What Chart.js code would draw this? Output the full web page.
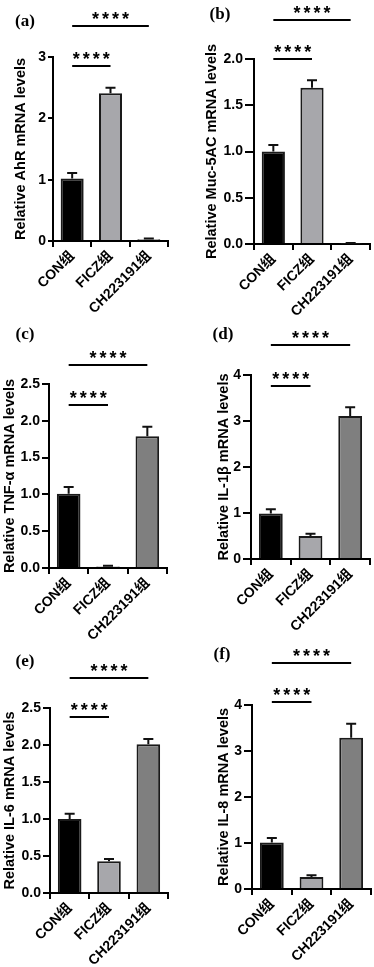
<!DOCTYPE html>
<html>
<head>
<meta charset="utf-8">
<script src="https://cdn.jsdelivr.net/npm/chart.js@4.4.1/dist/chart.umd.min.js"></script>
<style>
  body { margin: 0; background: #fff; width: 374px; height: 967px; position: relative; overflow: hidden; }
  canvas { position: absolute; }
</style>
</head>
<body>
<canvas id="pa" width="187" height="320" style="left:0;top:0"></canvas>
<canvas id="pb" width="187" height="320" style="left:187px;top:0"></canvas>
<canvas id="pc" width="187" height="320" style="left:0;top:320px"></canvas>
<canvas id="pd" width="187" height="320" style="left:187px;top:320px"></canvas>
<canvas id="pe" width="187" height="327" style="left:0;top:640px"></canvas>
<canvas id="pf" width="187" height="327" style="left:187px;top:640px"></canvas>
<script>
// Groupes
const groupes = ["CON组", "FICZ组", "CH223191组"];

// Valeurs moyennes (expression relative) et écarts-types
const ahr = [1.02, 2.41, 0.03];
const ahrSd = [0.09, 0.09, 0.01];
const muc5ac = [1.00, 1.69, 0.005];
const muc5acSd = [0.07, 0.08, 0.005];
const tnfa = [1.01, 0.02, 1.79];
const tnfaSd = [0.09, 0.01, 0.13];
const il1b = [0.99, 0.50, 3.11];
const il1bSd = [0.09, 0.05, 0.19];
const il6 = [1.00, 0.43, 2.01];
const il6Sd = [0.07, 0.03, 0.07];
const il8 = [1.01, 0.26, 3.29];
const il8Sd = [0.10, 0.04, 0.30];

// Axes
const titresY = [
    "Relative AhR mRNA levels",
    "Relative Muc-5AC mRNA levels",
    "Relative TNF-α mRNA levels",
    "Relative IL-1β mRNA levels",
    "Relative IL-6 mRNA levels",
    "Relative IL-8 mRNA levels",
];
const yMax = [3, 2, 2.5, 4, 2.5, 4];
const yPas = [1, 0.5, 0.5, 1, 0.5, 1];
const lettres = ["(a)", "(b)", "(c)", "(d)", "(e)", "(f)"];

// Comparaisons significatives (CON vs FICZ, CON vs CH223191)
const comparaisons = [[0, 1], [0, 2]];
const signif = "****";

const valeurs = [ahr, muc5ac, tnfa, il1b, il6, il8];
const ecarts = [ahrSd, muc5acSd, tnfaSd, il1bSd, il6Sd, il8Sd];

// Mise en page de chaque panneau (zone du graphique, en pixels du canvas)
const panneaux = [
    { id: "pa", w: 187, h: 320, L: 53, T: 57, R: 168, B: 241, tick: 5, titreX: 21, lettre: [25, 22], niveaux: [2.85, 3.5] },
    { id: "pb", w: 187, h: 320, L: 67, T: 59, R: 183, B: 244, tick: 9, titreX: 25, lettre: [33, 15], niveaux: [2.0, 2.42] },
    { id: "pc", w: 187, h: 320, L: 49, T: 64, R: 167, B: 248, tick: 7, titreX: 10, lettre: [25, 15], niveaux: [2.21, 2.76] },
    { id: "pd", w: 187, h: 320, L: 64, T: 55, R: 183, B: 239, tick: 8, titreX: 37, lettre: [36, 15], niveaux: [3.76, 4.65] },
    { id: "pe", w: 187, h: 327, L: 50, T: 68, R: 168, B: 253, tick: 7, titreX: 10, lettre: [25, 22], niveaux: [2.38, 2.91] },
    { id: "pf", w: 187, h: 327, L: 65, T: 65, R: 184, B: 249, tick: 8, titreX: 37, lettre: [35, 15], niveaux: [4.07, 4.91] },
];

const police = "Arial, 'Liberation Sans', 'Noto Sans CJK SC', sans-serif";
const couleurs = ["#000000", "#a7a7ab", "#7f7f7f"];

// Barres d'erreur (partie haute), crochets de significativité et lettre du panneau
const annotations = {
    id: "annotations",
    afterDatasetsDraw(chart, args, opts) {
        const ctx = chart.ctx;
        const y = chart.scales.y;
        const meta = chart.getDatasetMeta(0);
        const data = chart.data.datasets[0].data;
        ctx.save();
        ctx.strokeStyle = "#111";
        ctx.lineWidth = 2;
        meta.data.forEach((bar, i) => {
            const haut = y.getPixelForValue(data[i] + opts.erreurs[i]);
            const base = y.getPixelForValue(data[i]);
            ctx.beginPath();
            ctx.moveTo(bar.x, base);
            ctx.lineTo(bar.x, haut);
            ctx.moveTo(bar.x - 5, haut);
            ctx.lineTo(bar.x + 5, haut);
            ctx.stroke();
        });
        ctx.restore();
    },
    afterDraw(chart, args, opts) {
        const ctx = chart.ctx;
        const y = chart.scales.y;
        const meta = chart.getDatasetMeta(0);
        ctx.save();
        ctx.strokeStyle = "#000";
        ctx.fillStyle = "#000";
        ctx.lineWidth = 2;
        comparaisons.forEach(([i, j], k) => {
            const ly = Math.round(y.getPixelForValue(opts.niveaux[k]));
            const x1 = meta.data[i].x;
            const x2 = meta.data[j].x;
            ctx.beginPath();
            ctx.moveTo(x1, ly);
            ctx.lineTo(x2, ly);
            ctx.stroke();
            ctx.font = "bold 18px " + police;
            ctx.letterSpacing = "3px";
            ctx.textAlign = "center";
            ctx.textBaseline = "alphabetic";
            ctx.fillText(signif, (x1 + x2) / 2 + 1.5, ly - 1);
        });
        ctx.letterSpacing = "0px";
        ctx.font = "bold 17px 'Liberation Serif', 'Times New Roman', serif";
        ctx.textAlign = "center";
        ctx.textBaseline = "middle";
        ctx.fillText(opts.lettre, opts.lettrePos[0], opts.lettrePos[1]);
        ctx.restore();
    },
};

panneaux.forEach((p, n) => {
    const decimales = yPas[n] < 1 ? 1 : 0;
    new Chart(document.getElementById(p.id), {
        type: "bar",
        data: {
            labels: groupes,
            datasets: [{
                data: valeurs[n],
                backgroundColor: couleurs,
                borderColor: "#1a1a1a",
                borderWidth: 2,
                barPercentage: 0.6,
                categoryPercentage: 1,
            }],
        },
        options: {
            responsive: false,
            animation: false,
            events: [],
            layout: { padding: { top: p.T, right: p.w - p.R, left: 0, bottom: 0 } },
            plugins: {
                legend: { display: false },
                tooltip: { enabled: false },
                annotations: {
                    erreurs: ecarts[n],
                    niveaux: p.niveaux,
                    lettre: lettres[n],
                    lettrePos: p.lettre,
                },
            },
            scales: {
                x: {
                    afterFit: (s) => { s.height = p.h - p.B; },
                    grid: { drawOnChartArea: false, drawTicks: true, tickLength: 6, color: "#000", lineWidth: 2 },
                    border: { color: "#000", width: 2 },
                    ticks: {
                        color: "#000",
                        autoSkip: false,
                        minRotation: 45,
                        maxRotation: 45,
                        padding: 1,
                        font: { family: police, size: 14, weight: "bold" },
                    },
                },
                y: {
                    min: 0,
                    max: yMax[n],
                    afterFit: (s) => { s.width = p.L; },
                    grid: { drawOnChartArea: false, drawTicks: true, tickLength: p.tick, color: "#000", lineWidth: 2 },
                    border: { color: "#000", width: 2 },
                    ticks: {
                        stepSize: yPas[n],
                        color: "#000",
                        padding: 2,
                        font: { family: police, size: 14, weight: "bold" },
                        callback: (v) => Number(v).toFixed(decimales),
                    },
                    title: {
                        display: true,
                        text: titresY[n],
                        color: "#000",
                        padding: { top: p.titreX - 8.7, bottom: 0 },
                        font: { family: police, size: 14.5, weight: "bold" },
                    },
                },
            },
        },
        plugins: [annotations],
    });
});
</script>
</body>
</html>
